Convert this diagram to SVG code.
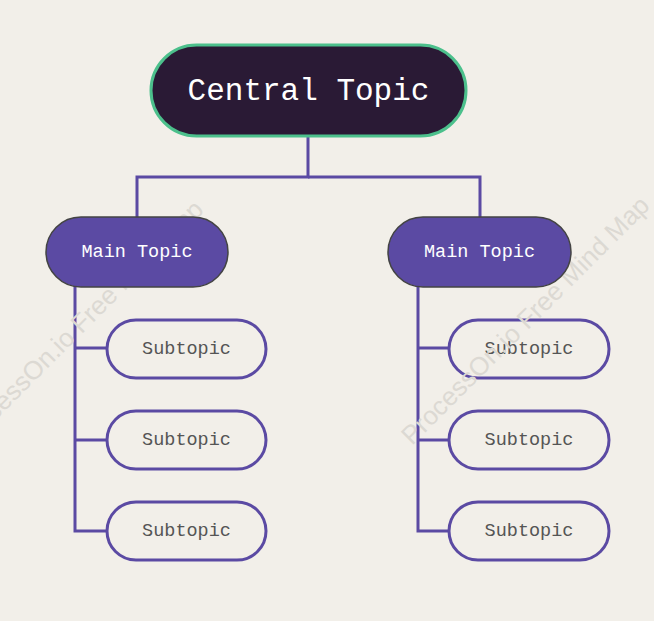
<svg xmlns="http://www.w3.org/2000/svg" width="654" height="621" viewBox="0 0 654 621">
<style>
.wm{font-family:"Liberation Sans",Arial,sans-serif;font-size:26px;fill:#dcd9d3;}
.t{font-family:"Liberation Mono","DejaVu Sans Mono",monospace;text-anchor:middle;dominant-baseline:central;}
.main rect{fill:#5b4aa3;stroke:#444444;stroke-width:1.5;}
.main text{fill:#ffffff;font-size:18.5px;}
.sub rect{fill:#f2efe9;stroke:#5b4aa3;stroke-width:3;}
.sub text{fill:#555555;font-size:18.5px;}
.conn{fill:none;stroke:#5b4aa3;stroke-width:3;}
</style>
<rect width="654" height="621" fill="#f2efe9"/>
<g id="connectors" class="conn">
<path d="M308,136 V177 H137 V217"/>
<path d="M308,177 H480 V217"/>
<path d="M75,287 V531 H107 M75,348 H107 M75,440 H107"/>
<path d="M418,287 V531 H449 M418,348 H449 M418,440 H449"/>
</g>
<g id="sub1" class="sub"><rect x="107" y="320" width="159" height="58" rx="29"/><text class="t" x="186.5" y="349">Subtopic</text></g>
<g id="sub2" class="sub"><rect x="107" y="411" width="159" height="58" rx="29"/><text class="t" x="186.5" y="440">Subtopic</text></g>
<g id="sub3" class="sub"><rect x="107" y="502" width="159" height="58" rx="29"/><text class="t" x="186.5" y="531">Subtopic</text></g>
<g id="sub4" class="sub"><rect x="449" y="320" width="160" height="58" rx="29"/><text class="t" x="529" y="349">Subtopic</text></g>
<g id="sub5" class="sub"><rect x="449" y="411" width="160" height="58" rx="29"/><text class="t" x="529" y="440">Subtopic</text></g>
<g id="sub6" class="sub"><rect x="449" y="502" width="160" height="58" rx="29"/><text class="t" x="529" y="531">Subtopic</text></g>
<g id="watermark">
<text class="wm" transform="translate(-34,450) rotate(-45)">ProcessOn.io Free Mind Map</text>
<text class="wm" transform="translate(412,446) rotate(-45)">ProcessOn.io Free Mind Map</text>
</g>
<g id="central">
<rect x="151" y="45" width="315" height="91" rx="45.5" fill="#2a1a35" stroke="#4cc08c" stroke-width="3"/>
<text class="t" x="308.5" y="91" fill="#ffffff" font-size="31">Central Topic</text>
</g>
<g id="main1" class="main">
<rect x="46" y="217" width="182" height="70" rx="35"/>
<text class="t" x="137" y="252">Main Topic</text>
</g>
<g id="main2" class="main">
<rect x="388" y="217" width="183" height="70" rx="35"/>
<text class="t" x="479.5" y="252">Main Topic</text>
</g>
</svg>
